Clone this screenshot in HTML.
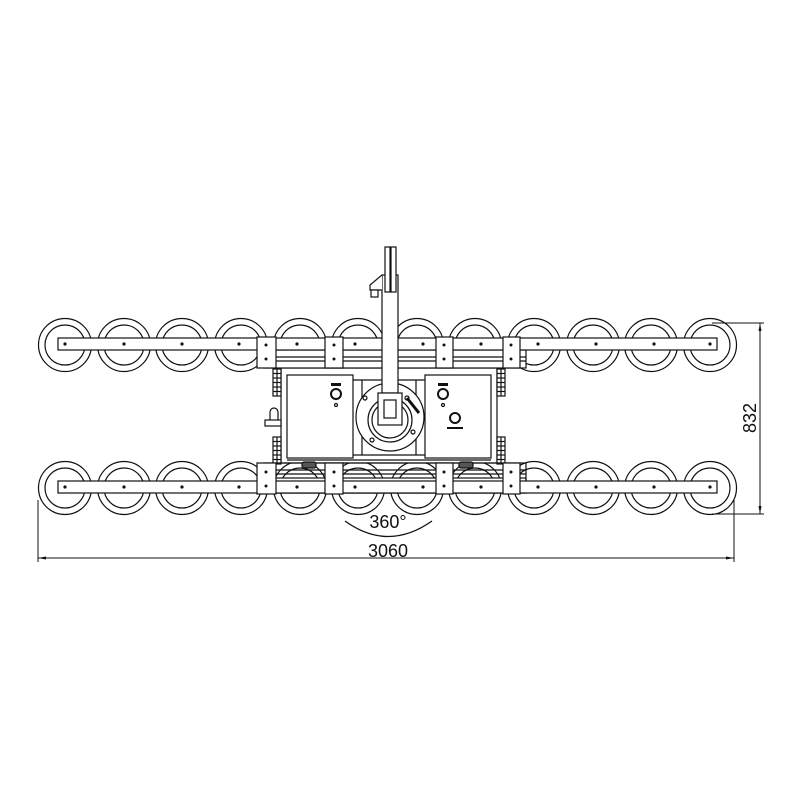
<!DOCTYPE html>
<html><head><meta charset="utf-8"><style>html,body{margin:0;padding:0;background:#fff}svg{display:block}</style></head>
<body>
<svg width="800" height="800" viewBox="0 0 800 800" xmlns="http://www.w3.org/2000/svg" fill="none" stroke="#111" stroke-width="1.2" font-family="Liberation Sans, sans-serif">
<defs>
<g id="cup"><circle r="26.5" fill="#fff"/><circle r="20"/></g>
<g id="strip"><rect x="0" y="0" width="8" height="27" fill="#fff"/><line x1="0" y1="4.5" x2="8" y2="4.5"/><line x1="0" y1="9" x2="8" y2="9"/><line x1="0" y1="13.5" x2="8" y2="13.5"/><line x1="0" y1="18" x2="8" y2="18"/><line x1="0" y1="22.5" x2="8" y2="22.5"/><line x1="4" y1="0" x2="4" y2="27"/></g>
</defs>
<g>
<use href="#cup" x="65" y="345"/><use href="#cup" x="124" y="345"/><use href="#cup" x="182" y="345"/><use href="#cup" x="241" y="345"/><use href="#cup" x="300" y="345"/><use href="#cup" x="358" y="345"/><use href="#cup" x="417" y="345"/><use href="#cup" x="475" y="345"/><use href="#cup" x="534" y="345"/><use href="#cup" x="593" y="345"/><use href="#cup" x="651" y="345"/><use href="#cup" x="710" y="345"/>
<use href="#cup" x="65" y="488"/><use href="#cup" x="124" y="488"/><use href="#cup" x="182" y="488"/><use href="#cup" x="241" y="488"/><use href="#cup" x="300" y="488"/><use href="#cup" x="358" y="488"/><use href="#cup" x="417" y="488"/><use href="#cup" x="475" y="488"/><use href="#cup" x="534" y="488"/><use href="#cup" x="593" y="488"/><use href="#cup" x="651" y="488"/><use href="#cup" x="710" y="488"/>
</g>
<rect x="281" y="368" width="216" height="95" fill="#fff"/>
<rect x="287" y="375" width="66" height="83" fill="#fff"/>
<rect x="425" y="375" width="66" height="83" fill="#fff"/>
<line x1="353" y1="380" x2="425" y2="380"/>
<line x1="353" y1="455" x2="425" y2="455"/>
<line x1="362" y1="380" x2="362" y2="455"/><line x1="416" y1="380" x2="416" y2="455"/>
<line x1="287" y1="460" x2="491" y2="460"/>
<use href="#strip" x="273" y="369"/><use href="#strip" x="273" y="437"/>
<use href="#strip" x="497" y="369"/><use href="#strip" x="497" y="437"/>
<path d="M270 420 v-8 a4 4 0 0 1 8 0 v8" /><rect x="265" y="420" width="16" height="6" fill="#fff"/>
<rect x="264" y="350" width="262" height="18" fill="#fff"/>
<line x1="264" y1="357" x2="526" y2="357"/><line x1="264" y1="361" x2="526" y2="361"/>
<rect x="264" y="478" width="262" height="15" fill="#fff"/>
<line x1="264" y1="470" x2="526" y2="470"/><line x1="264" y1="474" x2="526" y2="474"/>
<rect x="264" y="463" width="262" height="30" fill="none"/>
<rect x="58" y="338" width="659" height="12" fill="#fff"/>
<rect x="58" y="481" width="659" height="12" fill="#fff"/>
<g fill="#111" stroke="none">
<circle cx="65" cy="344" r="1.6"/><circle cx="124" cy="344" r="1.6"/><circle cx="182" cy="344" r="1.6"/><circle cx="239" cy="344" r="1.6"/><circle cx="297" cy="344" r="1.6"/><circle cx="355" cy="344" r="1.6"/><circle cx="423" cy="344" r="1.6"/><circle cx="481" cy="344" r="1.6"/><circle cx="538" cy="344" r="1.6"/><circle cx="596" cy="344" r="1.6"/><circle cx="654" cy="344" r="1.6"/><circle cx="710" cy="344" r="1.6"/>
<circle cx="65" cy="487" r="1.6"/><circle cx="124" cy="487" r="1.6"/><circle cx="182" cy="487" r="1.6"/><circle cx="239" cy="487" r="1.6"/><circle cx="297" cy="487" r="1.6"/><circle cx="355" cy="487" r="1.6"/><circle cx="423" cy="487" r="1.6"/><circle cx="481" cy="487" r="1.6"/><circle cx="538" cy="487" r="1.6"/><circle cx="596" cy="487" r="1.6"/><circle cx="654" cy="487" r="1.6"/><circle cx="710" cy="487" r="1.6"/>
</g>
<g fill="#fff">
<rect x="257" y="337" width="19" height="31"/><rect x="325" y="337" width="18" height="31"/><rect x="436" y="337" width="17" height="31"/><rect x="503" y="337" width="17" height="31"/>
<rect x="257" y="463" width="19" height="31"/><rect x="325" y="463" width="18" height="31"/><rect x="436" y="463" width="17" height="31"/><rect x="503" y="463" width="17" height="31"/>
</g>
<g fill="#111" stroke="none">
<circle cx="266" cy="345" r="1.5"/><circle cx="266" cy="359" r="1.5"/><circle cx="334" cy="345" r="1.5"/><circle cx="334" cy="359" r="1.5"/><circle cx="444" cy="345" r="1.5"/><circle cx="444" cy="359" r="1.5"/><circle cx="511" cy="345" r="1.5"/><circle cx="511" cy="359" r="1.5"/>
<circle cx="266" cy="472" r="1.5"/><circle cx="266" cy="486" r="1.5"/><circle cx="334" cy="472" r="1.5"/><circle cx="334" cy="486" r="1.5"/><circle cx="444" cy="472" r="1.5"/><circle cx="444" cy="486" r="1.5"/><circle cx="511" cy="472" r="1.5"/><circle cx="511" cy="486" r="1.5"/>
</g>
<circle cx="390" cy="417" r="34" fill="#fff"/>
<circle cx="390" cy="420" r="22"/>
<circle cx="390" cy="420" r="18"/>
<g fill="#fff"><circle cx="365" cy="398" r="2"/><circle cx="413" cy="432" r="2"/><circle cx="372" cy="440" r="2"/><circle cx="407" cy="398" r="2"/></g>
<path d="M407 398 L419 413" stroke-width="3"/>
<circle cx="336" cy="394" r="5" stroke-width="2"/><circle cx="336" cy="405" r="1.5"/>
<rect x="331" y="383" width="10" height="3" fill="#111" stroke="none"/>
<circle cx="443" cy="394" r="5" stroke-width="2"/><circle cx="443" cy="405" r="1.5"/>
<rect x="438" y="383" width="10" height="3" fill="#111" stroke="none"/>
<circle cx="455" cy="418" r="5" stroke-width="2"/><rect x="447" y="427" width="16" height="2" fill="#111" stroke="none"/>
<rect x="302" y="462" width="14" height="6" rx="2" fill="#555"/>
<rect x="459" y="462" width="14" height="6" rx="2" fill="#555"/>
<rect x="382" y="275" width="16" height="118" fill="#fff"/>
<rect x="378" y="393" width="24" height="32" fill="#fff"/>
<rect x="384" y="400" width="12" height="18"/>
<rect x="385" y="247" width="5" height="45" fill="#fff"/>
<rect x="391" y="247" width="5" height="45" fill="#fff"/>
<path d="M382 275 L370 285 L370 290 L382 290" fill="#fff"/>
<rect x="371" y="290" width="7" height="7" fill="#fff"/>
<g stroke-width="1">
<line x1="38" y1="500" x2="38" y2="562"/>
<line x1="734" y1="500" x2="734" y2="562"/>
<line x1="38" y1="558" x2="734" y2="558"/>
<line x1="712" y1="323" x2="764" y2="323"/>
<line x1="712" y1="514" x2="764" y2="514"/>
<line x1="760" y1="323" x2="760" y2="514"/>
<path d="M345 521 Q388 552 432 521" stroke-width="1.3"/>
</g>
<g fill="#111" stroke="none">
<path d="M38 558 l8 -1.5 v3z"/><path d="M734 558 l-8 -1.5 v3z"/>
<path d="M760 323 l-1.5 8 h3z"/><path d="M760 514 l-1.5 -8 h3z"/>
</g>
<g fill="#111" stroke="none" font-size="18">
<text x="388" y="528" text-anchor="middle">360°</text>
<text x="388" y="557" text-anchor="middle">3060</text>
<text x="0" y="0" text-anchor="middle" transform="translate(756 418) rotate(-90)">832</text>
</g>
</svg>
</body></html>
